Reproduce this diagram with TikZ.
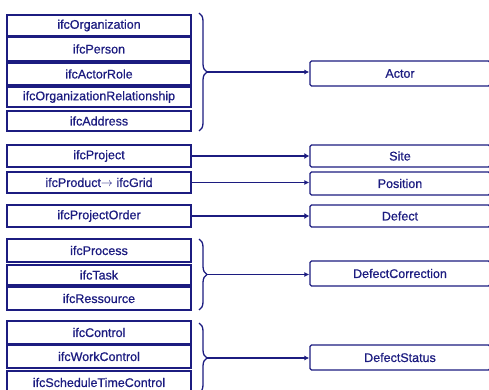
\documentclass[tikz,border=0pt]{standalone}
\usepackage{fontspec}
\setmainfont{Liberation Sans}
\newfontfamily\labelfont{Liberation Sans}[FakeBold=0.8]
\usetikzlibrary{decorations.pathreplacing,arrows.meta}
\definecolor{ink}{RGB}{28,28,128}
\begin{document}
\begin{tikzpicture}[x=1pt,y=-1pt,
  every node/.style={text=ink,font=\labelfont\fontsize{12.5}{14}\selectfont},
  lbox/.style={draw=ink,line width=1.3pt,minimum width=184pt,inner sep=0pt,anchor=center},
  rbox/.style={draw=ink,line width=1.3pt,minimum width=180pt,inner sep=0pt,rounded corners=1.5pt,anchor=center},
  grp/.style={draw=ink,line width=1.3pt,decorate,decoration={brace,amplitude=8pt}},
  thin/.style={draw=ink,line width=1.2pt,-{Latex[length=5pt,width=5pt]}},
  thick/.style={draw=ink,line width=2.8pt,-{Latex[length=5pt,width=6pt]}}]
\useasboundingbox (0,0) rectangle (489,390);
\clip (0,0) rectangle (489,390);

% interface classes, left column
\node[lbox,minimum height=21pt] (org)     at (99,25.5)  {ifcOrganization};
\node[lbox,minimum height=24pt] (person)  at (99,49)    {ifcPerson};
\node[lbox,minimum height=22pt] (role)    at (99,74)    {ifcActorRole};
\node[lbox,minimum height=20pt] (orgrel)  at (99,97)    {ifcOrganizationRelationship};
\node[lbox,minimum height=20pt] (addr)    at (99,121)   {ifcAddress};
\node[lbox,minimum height=22pt] (proj)    at (99,156)   {ifcProject};
\node[lbox,minimum height=21pt] (prod)    at (99,182.5) {ifcProduct$\rightarrow$ ifcGrid};
\node[lbox,minimum height=22pt] (order)   at (99,216)   {ifcProjectOrder};
\node[lbox,minimum height=23pt] (proc)    at (99,250.5) {ifcProcess};
\node[lbox,minimum height=20pt] (task)    at (99,275)   {ifcTask};
\node[lbox,minimum height=23pt] (res)     at (99,298.5) {ifcRessource};
\node[lbox,minimum height=23pt] (ctrl)    at (99,332.5) {ifcControl};
\node[lbox,minimum height=23pt] (work)    at (99,356.5) {ifcWorkControl};
\node[lbox,minimum height=23pt] (sched)   at (99,382.5) {ifcScheduleTimeControl};

% defect model classes, right column
\node[rbox,minimum height=25pt] (actor)  at (400,73.5)  {Actor};
\node[rbox,minimum height=22pt] (site)   at (400,156)   {Site};
\node[rbox,minimum height=23pt] (pos)    at (400,183.5) {Position};
\node[rbox,minimum height=22pt] (defect) at (400,216)   {Defect};
\node[rbox,minimum height=25pt] (dcorr)  at (400,273.5) {DefectCorrection};
\node[rbox,minimum height=25pt] (dstat)  at (400,357.5) {DefectStatus};

% braces grouping the interface classes
\draw[grp] (199,13) -- (199,131);
\draw[grp] (199,239) -- (199,310);
\draw[grp] (199,323) -- (199,393);
\coordinate (g1) at (207,72);
\coordinate (g2) at (207,274.5);
\coordinate (g3) at (207,358);

% mappings
\draw[thin]  (g1) -- (g1 -| actor.west);
\draw[thick] (proj.east) -- (site.west);
\draw[thin]  (prod.east) -- (prod.east -| pos.west);
\draw[thick] (order.east) -- (defect.west);
\draw[thin]  (g2) -- (g2 -| dcorr.west);
\draw[thin]  (g3) -- (g3 -| dstat.west);
\end{tikzpicture}
\end{document}
